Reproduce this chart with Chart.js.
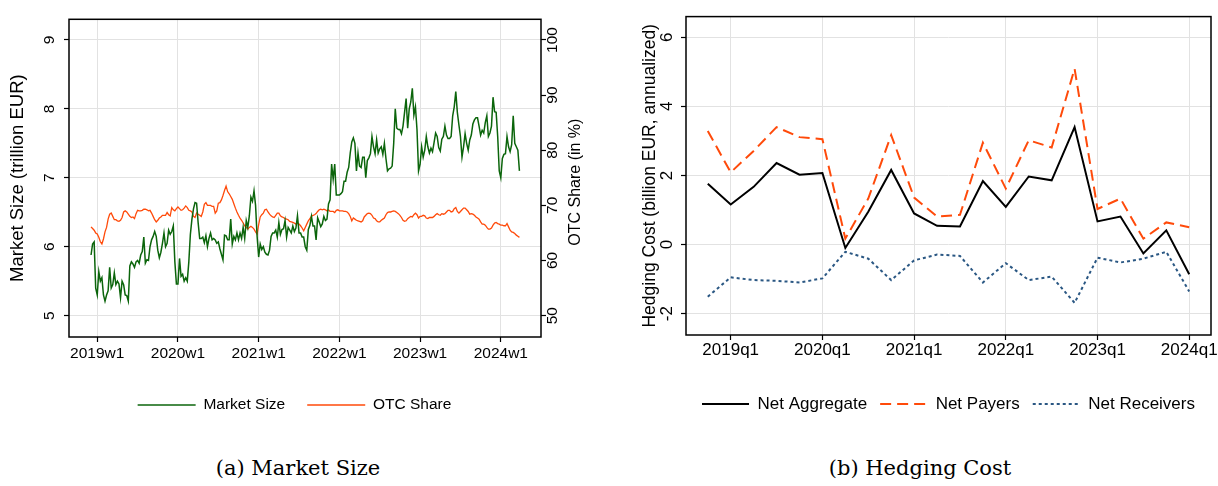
<!DOCTYPE html>
<html>
<head>
<meta charset="utf-8">
<script src="https://cdn.jsdelivr.net/npm/chart.js@4/dist/chart.umd.min.js"></script>
<style>
  body { margin: 0; background: #fff; width: 1218px; height: 486px; position: relative; overflow: hidden; }
  canvas { position: absolute; top: 0; }
  .cap { position: absolute; top: 455px; width: 240px; font-family: "DejaVu Serif", serif; font-size: 21px; line-height: 26px; text-align: center; color: #000; }
</style>
</head>
<body>
<canvas id="sizeChart" width="589" height="445" style="left:0"></canvas>
<canvas id="costChart" width="609" height="445" style="left:609px"></canvas>
<div class="cap" style="left:178px">(a) Market Size</div>
<div class="cap" style="left:800px">(b) Hedging Cost</div>
<script>
const FONT = "'Liberation Sans', Arial, sans-serif";

// panel (a): weekly, x counted in weeks from 2019w1 (first obs is 2018w49)
const firstWeek = -4;
const weekTickPos = [0, 52, 104, 156, 208, 260];
const weekTickLabels = ['2019w1', '2020w1', '2021w1', '2022w1', '2023w1', '2024w1'];
const sizeTicks = [5, 6, 7, 8, 9];
const shareTicks = [50, 60, 70, 80, 90, 100];

const marketSize = [
  5.88, 6.04, 6.07, 5.4, 5.3, 5.64, 5.5, 5.55, 5.3, 5.21, 5.3, 5.36, 5.7, 5.4,
  5.45, 5.62, 5.45, 5.5, 5.46, 5.26, 5.5, 5.45, 5.3, 5.29,
  5.21, 5.72, 5.78, 5.75, 5.7, 5.78, 5.8, 5.76, 5.88, 5.93,
  6.14, 5.76, 5.81, 5.8, 6.0, 6.1, 6.15, 6.22, 6.15, 5.95,
  5.84, 5.92, 6.05, 6.2, 6.0, 6.05, 6.24, 6.18, 6.22, 6.3,
  5.78, 5.46, 5.46, 5.83, 5.57, 5.6, 5.5, 5.55, 5.5, 5.78,
  6.18, 6.4, 6.55, 6.64, 6.63, 6.35, 6.12, 6.12, 6.14, 6.06,
  6.16, 6.0, 6.12, 6.2, 6.1, 6.12, 6.1, 6.05, 6.07, 5.97,
  5.89, 5.81, 6.17, 6.16, 6.1, 6.1, 6.4, 6.04, 6.15, 6.1,
  6.2, 6.1, 6.2, 6.12, 6.28, 6.12, 6.38, 6.28, 6.45, 6.72,
  6.66, 6.81, 6.6, 6.15, 5.85, 6.04, 5.96, 6.0, 5.92, 5.89,
  5.88, 5.95, 6.15, 6.2, 6.2, 6.24, 6.14, 6.35, 6.18, 6.25,
  6.26, 6.38, 6.14, 6.28, 6.24, 6.2, 6.3, 6.22, 6.27, 6.45,
  6.2, 6.2, 6.14, 6.14, 6.0, 5.95, 6.25, 6.31, 6.44, 6.3,
  6.3, 6.1, 6.42, 6.36, 6.29, 6.33, 6.44, 6.38, 6.4, 6.62,
  6.68, 7.2, 6.98, 7.2, 6.75, 6.75, 6.75, 6.77, 6.8, 6.95,
  6.95, 7.08, 7.15, 7.36, 7.52, 7.58, 7.5, 7.1, 7.36, 7.17,
  7.15, 7.3, 7.3, 7.0, 7.25, 7.29, 7.35, 7.6, 7.45, 7.35,
  7.55, 7.36, 7.42, 7.45, 7.34, 7.5, 7.28, 7.1, 7.13, 7.14,
  7.17, 7.5, 8.0, 7.72, 7.7, 7.7, 7.64, 7.75, 7.95, 8.15,
  7.72, 8.0, 8.1, 8.3, 7.91, 8.03, 7.7, 7.1, 7.2, 7.45,
  7.3, 7.4, 7.6, 7.45, 7.36, 7.43, 7.38, 7.51, 7.65, 7.6,
  7.44, 7.39, 7.56, 7.6, 7.75, 7.62, 7.57, 7.57, 7.6, 7.9,
  8.03, 8.25, 7.95, 7.77, 7.6, 7.3, 7.45, 7.64, 7.5, 7.4,
  7.55, 7.62, 7.78, 7.84, 7.87, 7.87, 7.75, 7.62, 7.69, 7.65,
  7.8, 7.9, 7.6, 7.65, 7.75, 8.17, 7.96, 7.95, 7.6, 7.1,
  7.0, 7.28, 7.34, 7.35, 7.6, 7.45, 7.38, 7.48, 7.9, 7.5,
  7.45, 7.4, 7.1
];

const otcShare = [
  66.1, 65.8, 65.5, 65.0, 64.8, 64.2, 63.4, 63.0, 63.9, 65.2, 66.0, 67.5, 68.4, 68.6,
  68.0, 67.4, 67.4, 67.2, 67.1, 67.3, 67.8, 68.8, 69.0, 68.8,
  68.4, 68.0, 67.8, 67.9, 67.6, 68.5, 69.1, 69.0, 69.0, 69.1,
  69.3, 69.3, 69.2, 69.0, 69.1, 68.6, 68.0, 67.4, 67.0, 67.3,
  67.7, 67.9, 68.2, 68.2, 68.2, 68.7, 68.3, 68.1, 69.6, 69.2,
  69.0, 69.4, 69.7, 69.4, 69.1, 69.2, 69.5, 69.9, 69.6, 69.1,
  69.0, 68.8, 68.0, 67.8, 68.6, 68.4, 68.2, 68.0, 68.8, 70.2,
  70.5, 70.0, 70.0, 70.0, 69.8, 69.8, 68.6, 69.0, 70.4, 70.5,
  71.0, 71.8, 72.7, 73.5, 72.5, 72.1, 71.6, 71.1, 70.3, 69.5,
  68.8, 68.2, 67.7, 67.3, 66.8, 66.3, 66.0, 65.7, 66.0, 66.2,
  66.0, 65.7, 65.2, 64.8, 66.5, 67.9, 68.3, 68.6, 69.2, 69.3,
  68.8, 68.4, 68.1, 67.9, 67.8, 68.2, 68.6, 68.6, 68.1, 67.9,
  67.8, 67.6, 67.5, 67.4, 67.1, 67.0, 66.9, 66.8, 66.6, 66.8,
  66.6, 66.3, 65.9, 65.4, 66.0, 66.6, 67.2, 67.6, 68.0, 68.2,
  68.3, 68.5, 68.9, 69.2, 69.3, 69.2, 69.3, 69.2, 69.0, 69.2,
  68.9, 68.9, 68.9, 68.7, 69.1, 69.2, 69.0, 69.0, 69.0, 68.9,
  68.9, 68.8, 68.5, 68.0, 67.2, 67.7, 67.5, 67.3, 67.2, 67.1,
  67.0, 67.2, 67.9, 68.2, 68.5, 68.6, 68.5, 68.2, 67.7, 67.6,
  67.2, 67.0, 67.0, 67.3, 67.5, 67.7, 68.3, 68.7, 68.8, 68.8,
  68.9, 69.0, 68.9, 68.7, 68.5, 68.2, 67.8, 67.3, 67.1, 67.2,
  67.6, 67.8, 68.0, 67.9, 68.3, 68.6, 68.3, 67.7, 68.0, 68.0,
  68.2, 68.1, 67.7, 67.6, 67.8, 67.8, 67.8, 68.0, 68.3, 68.5,
  68.3, 68.2, 68.5, 68.4, 68.5, 68.8, 69.1, 69.1, 68.8, 68.9,
  69.4, 69.6, 68.9, 68.6, 68.9, 69.2, 69.5, 69.5, 69.2, 68.9,
  68.4, 68.5, 68.4, 68.2, 67.9, 67.7, 67.5, 67.0, 66.6, 66.6,
  66.4, 66.0, 65.7, 65.7, 65.9, 66.4, 66.8, 66.9, 66.7, 66.6,
  66.4, 66.4, 66.3, 66.3, 66.7, 66.1, 65.5, 65.2, 65.1, 64.9,
  64.6, 64.4, 64.2
];

// panel (b): quarterly
const quarters = ['2018q4', '2019q1', '2019q2', '2019q3', '2019q4', '2020q1', '2020q2', '2020q3',
  '2020q4', '2021q1', '2021q2', '2021q3', '2021q4', '2022q1', '2022q2', '2022q3', '2022q4',
  '2023q1', '2023q2', '2023q3', '2023q4', '2024q1'];
const quarterTicks = ['2019q1', '2020q1', '2021q1', '2022q1', '2023q1', '2024q1'];
const costTicks = [-2, 0, 2, 4, 6];
const netAggregate = [1.76, 1.16, 1.67, 2.36, 2.02, 2.07, -0.1, 0.95, 2.16, 0.9, 0.54, 0.52,
  1.84, 1.09, 1.97, 1.86, 3.4, 0.67, 0.81, -0.26, 0.41, -0.86];
const netPayers = [3.29, 2.09, 2.71, 3.4, 3.11, 3.05, 0.17, 1.33, 3.17, 1.36, 0.81, 0.86,
  2.95, 1.62, 3.02, 2.81, 5.09, 1.03, 1.33, 0.17, 0.64, 0.5];
const netReceivers = [-1.51, -0.95, -1.03, -1.05, -1.1, -0.98, -0.21, -0.41, -1.03, -0.46, -0.29, -0.33,
  -1.1, -0.54, -1.03, -0.93, -1.69, -0.38, -0.52, -0.41, -0.21, -1.36];

// box round the plot region
const framePlugin = {
  id: 'frame',
  afterDatasetsDraw(chart) {
    const a = chart.chartArea, c = chart.ctx;
    c.save();
    c.strokeStyle = '#000';
    c.lineWidth = 1.5;
    c.strokeRect(a.left, a.top, a.right - a.left, a.bottom - a.top);
    c.restore();
  }
};

// right axis title, read bottom to top like the left one
const shareTitle = {
  id: 'shareTitle',
  afterDraw(chart) {
    const c = chart.ctx, a = chart.chartArea;
    c.save();
    c.translate(576, (a.top + a.bottom) / 2 + 4);
    c.rotate(-Math.PI / 2);
    c.font = '16px ' + FONT;
    c.fillStyle = '#000';
    c.textAlign = 'center';
    c.textBaseline = 'middle';
    c.fillText('OTC Share (in %)', 0, 0);
    c.restore();
  }
};

// legend keys as line samples that keep each dataset's dash and width
const lineKeys = chart => Chart.defaults.plugins.legend.labels.generateLabels(chart).map(item => {
  const ds = chart.data.datasets[item.datasetIndex];
  item.lineDash = ds.borderDash || [];
  item.lineWidth = ds.borderWidth;
  item.strokeStyle = ds.borderColor;
  return item;
});

const gridCol = '#e2e2e2';
const setTicks = list => ax => { ax.ticks = list.map(v => ({ value: v })); };

new Chart(document.getElementById('sizeChart'), {
  type: 'line',
  data: {
    datasets: [{
      label: 'Market Size',
      data: marketSize.map((v, i) => ({ x: firstWeek + i, y: v })),
      yAxisID: 'y',
      borderColor: '#0b650b',
      borderWidth: 1.5,
      pointRadius: 0,
      tension: 0
    }, {
      label: 'OTC Share',
      data: otcShare.map((v, i) => ({ x: firstWeek + i, y: v })),
      yAxisID: 'y1',
      borderColor: '#ff4a0a',
      borderWidth: 1.3,
      pointRadius: 0,
      tension: 0
    }]
  },
  options: {
    responsive: false,
    animation: false,
    layout: { padding: { top: 12, left: 0, right: 0, bottom: 22.25 } },
    plugins: {
      tooltip: { enabled: false },
      legend: {
        position: 'bottom',
        labels: {
          usePointStyle: true, pointStyle: 'line', pointStyleWidth: 58,
          generateLabels: lineKeys,
          padding: 22, color: '#000', font: { family: FONT, size: 15.5 }
        }
      }
    },
    scales: {
      x: {
        type: 'linear', min: -18.2, max: 285.9,
        afterBuildTicks: setTicks(weekTickPos),
        afterFit: ax => { ax.height = 38.25; },
        ticks: {
          autoSkip: false, maxRotation: 0, padding: 2, color: '#000',
          font: { family: FONT, size: 15.5 },
          callback: v => weekTickLabels[weekTickPos.indexOf(v)]
        },
        grid: { color: gridCol, tickLength: 5, tickColor: '#000', tickWidth: 1.2 },
        border: { display: false }
      },
      y: {
        position: 'left', min: 4.69, max: 9.3,
        afterBuildTicks: setTicks(sizeTicks),
        afterFit: ax => { ax.width = 69; },
        ticks: {
          autoSkip: false, minRotation: 90, maxRotation: 90, crossAlign: 'center',
          padding: 10, color: '#000', font: { family: FONT, size: 15.5 }
        },
        grid: { color: gridCol, tickLength: 5, tickColor: '#000', tickWidth: 1.2 },
        border: { display: false },
        title: {
          display: true, text: 'Market Size (trillion EUR)', color: '#000',
          font: { family: FONT, size: 18.5 }, padding: { top: 6.5, bottom: 0 }
        }
      },
      y1: {
        position: 'right', min: 46.125, max: 103.75,
        afterBuildTicks: setTicks(shareTicks),
        afterFit: ax => { ax.width = 48; },
        ticks: {
          autoSkip: false, minRotation: 90, maxRotation: 90, crossAlign: 'center',
          padding: -6, color: '#000', font: { family: FONT, size: 15.5 }
        },
        grid: { drawOnChartArea: false, tickLength: 5, tickColor: '#000', tickWidth: 1.2 },
        border: { display: false }
      }
    }
  },
  plugins: [framePlugin, shareTitle]
});

const qx = arr => arr.map((v, i) => ({ x: i - 1, y: v }));
const quarterTickPos = quarterTicks.map(q => quarters.indexOf(q) - 1);

new Chart(document.getElementById('costChart'), {
  type: 'line',
  data: {
    datasets: [{
      label: 'Net Aggregate',
      data: qx(netAggregate),
      borderColor: '#000',
      borderWidth: 2,
      pointRadius: 0,
      tension: 0
    }, {
      label: 'Net Payers',
      data: qx(netPayers),
      borderColor: '#ff4a0a',
      borderWidth: 2,
      borderDash: [11, 6],
      pointRadius: 0,
      tension: 0
    }, {
      label: 'Net Receivers',
      data: qx(netReceivers),
      borderColor: '#2a5783',
      borderWidth: 2,
      borderDash: [3, 3],
      pointRadius: 0,
      tension: 0
    }]
  },
  options: {
    responsive: false,
    animation: false,
    layout: { padding: { top: 12, left: 0, right: 7, bottom: 22.5 } },
    plugins: {
      tooltip: { enabled: false },
      legend: {
        position: 'bottom',
        fullSize: false,
        labels: {
          usePointStyle: true, pointStyle: 'line', pointStyleWidth: 47,
          generateLabels: lineKeys,
          padding: 13, color: '#000', font: { family: FONT, size: 17 }
        }
      }
    },
    scales: {
      x: {
        type: 'linear', min: -1.95, max: 20.95,
        afterBuildTicks: setTicks(quarterTickPos),
        afterFit: ax => { ax.height = 47.5; },
        ticks: {
          autoSkip: false, maxRotation: 0, padding: 0, color: '#000',
          font: { family: FONT, size: 17 },
          callback: v => quarterTicks[quarterTickPos.indexOf(v)]
        },
        grid: { color: gridCol, tickLength: 5, tickColor: '#000', tickWidth: 1.2 },
        border: { display: false }
      },
      y: {
        position: 'left', min: -2.62, max: 6.6,
        afterBuildTicks: setTicks(costTicks),
        afterFit: ax => { ax.width = 77; },
        ticks: {
          autoSkip: false, minRotation: 90, maxRotation: 90, crossAlign: 'center',
          padding: 6.4, color: '#000', font: { family: FONT, size: 17 }
        },
        grid: { color: gridCol, tickLength: 5, tickColor: '#000', tickWidth: 1.2 },
        border: { display: false },
        title: {
          display: true, text: 'Hedging Cost (billion EUR, annualized)', color: '#000',
          font: { family: FONT, size: 17.5 }, padding: { top: 31, bottom: 0 }
        }
      }
    }
  },
  plugins: [framePlugin]
});
</script>
</body>
</html>
